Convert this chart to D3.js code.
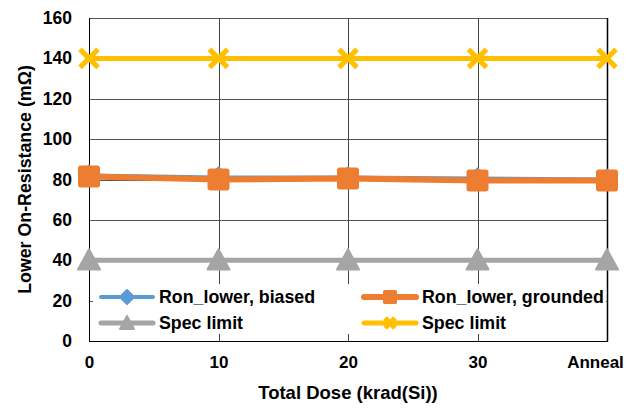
<!DOCTYPE html>
<html><head><meta charset="utf-8">
<script src="https://cdn.jsdelivr.net/npm/d3@7"></script>
<style>body{margin:0;background:#fff}svg{display:block}text{font-family:"Liberation Sans",Arial,sans-serif;font-weight:bold;fill:#000}</style>
</head><body><svg id="c" width="628" height="408"></svg>
<script>
const categories = ["0", "10", "20", "30", "Anneal"];
const biased = [82, 81, 81, 80.5, 80];
const grounded = [81.5, 80, 80.5, 79.5, 79.5];
const specLow = [40, 40, 40, 40, 40];
const specHigh = [140, 140, 140, 140, 140];
const yTicks = [0, 20, 40, 60, 80, 100, 120, 140, 160];
const seriesNames = ["Ron_lower, biased", "Ron_lower, grounded", "Spec limit", "Spec limit"];

const svg = d3.select("#c");
const L = 89, R = 607, T = 18, B = 341;
const x = d3.scalePoint().domain(categories).range([L, R]);
const y = d3.scaleLinear().domain([0, 160]).range([B, T]);

// gridlines
const g = svg.append("g");
g.selectAll(".hg").data(yTicks).join("line")
  .attr("x1", L).attr("x2", R).attr("y1", d => Math.round(y(d)) + 0.5).attr("y2", d => Math.round(y(d)) + 0.5)
  .attr("stroke", "#555").attr("stroke-width", 1);
g.selectAll(".vg").data(categories).join("line")
  .attr("x1", d => Math.round(x(d)) + 0.5).attr("x2", d => Math.round(x(d)) + 0.5).attr("y1", T).attr("y2", B)
  .attr("stroke", "#444").attr("stroke-width", 1);
// axes lines
svg.append("line").attr("x1", L + 0.5).attr("x2", L + 0.5).attr("y1", T).attr("y2", B + 0.5).attr("stroke", "#000");
svg.append("line").attr("x1", L).attr("x2", R + 1).attr("y1", B + 0.5).attr("y2", B + 0.5).attr("stroke", "#000");
svg.append("line").attr("x1", R + 0.5).attr("x2", R + 0.5).attr("y1", T).attr("y2", B + 0.5).attr("stroke", "#000").attr("stroke-width", 1.5);

const FF = '"Liberation Sans",Arial,sans-serif';
// y axis labels
const yAxis = d3.axisLeft(y).tickValues(yTicks).tickSize(0).tickPadding(17);
const ya = svg.append("g").attr("transform", `translate(${L},0)`).call(yAxis);
ya.select(".domain").remove();
ya.selectAll("text").attr("font-size", 17.5).style("font-family", FF).style("font-weight", "bold").attr("fill", "#000");

// x axis labels
const xAxis = d3.axisBottom(x).tickSize(0).tickPadding(0);
const xa = svg.append("g").attr("transform", `translate(0,${B})`).call(xAxis);
xa.select(".domain").remove();
xa.selectAll("text").attr("font-size", 17).style("font-family", FF).style("font-weight", "bold")
  .attr("fill", "#000").attr("dy", 27)
  .attr("dx", d => d === "Anneal" ? -12 : 0);

// titles
svg.append("text").attr("x", 348).attr("y", 399).attr("text-anchor", "middle").attr("font-size", 18.5).text("Total Dose (krad(Si))");
svg.append("text").attr("transform", `translate(31,${(T + B) / 2}) rotate(-90)`).attr("text-anchor", "middle").attr("font-size", 17.8).text("Lower On-Resistance (mΩ)");

const line = d3.line().x((d, i) => x(categories[i])).y(d => y(d));

function markerPath(type, s) {
  if (type === "diamond") return `M0,${-s}L${s},0L0,${s}L${-s},0Z`;
  if (type === "triangle") return `M0,${-s}L${s},${s * 0.85}L${-s},${s * 0.85}Z`;
  return "";
}

function drawSeries(data, color, width, type, size) {
  svg.append("path").datum(data).attr("d", line).attr("fill", "none").attr("stroke", color).attr("stroke-width", width).attr("stroke-linejoin", "round");
  const m = svg.append("g");
  data.forEach((v, i) => drawMarker(m, x(categories[i]), y(v), color, type, size));
}
function drawMarker(m, cx, cy, color, type, size) {
  if (type === "square") {
    m.append("rect").attr("x", cx - size).attr("y", cy - size).attr("width", 2 * size).attr("height", 2 * size)
      .attr("rx", size * 0.25).attr("fill", color);
  } else if (type === "x") {
    const s = size;
    m.append("path").attr("d", `M${cx - s},${cy - s}L${cx + s},${cy + s}M${cx - s},${cy + s}L${cx + s},${cy - s}`)
      .attr("stroke", color).attr("stroke-width", 5).attr("fill", "none");
  } else {
    m.append("path").attr("transform", `translate(${cx},${cy})`).attr("d", markerPath(type, size))
      .attr("fill", color).attr("stroke", color).attr("stroke-width", 2).attr("stroke-linejoin", "round");
  }
}

const colors = ["#5b9bd5", "#ed7d31", "#a5a5a5", "#ffc000"];
drawSeries(specLow, colors[2], 5, "triangle", 11);
drawSeries(specHigh, colors[3], 5, "x", 9);
drawSeries(biased, colors[0], 4, "diamond", 10);
drawSeries(grounded, colors[1], 6, "square", 11);

// legend
svg.append("rect").attr("x", 93).attr("y", 284).attr("width", 513).attr("height", 50).attr("fill", "#fff");
const legendItems = [
  {name: seriesNames[0], color: colors[0], type: "diamond", lx: 101, ly: 297, w: 4, s: 7},
  {name: seriesNames[1], color: colors[1], type: "square", lx: 364, ly: 297, w: 6, s: 7},
  {name: seriesNames[2], color: colors[2], type: "triangle", lx: 101, ly: 323, w: 5, s: 7},
  {name: seriesNames[3], color: colors[3], type: "x", lx: 364, ly: 323, w: 5, s: 5},
];
legendItems.forEach(it => {
  svg.append("line").attr("x1", it.lx).attr("x2", it.lx + 52).attr("y1", it.ly).attr("y2", it.ly)
    .attr("stroke", it.color).attr("stroke-width", it.w).attr("stroke-linecap", "round");
  drawMarker(svg, it.lx + 26, it.ly, it.color, it.type, it.s);
  svg.append("text").attr("x", it.lx + 58).attr("y", it.ly + 6).attr("font-size", 17.8).text(it.name);
});
</script></body></html>
